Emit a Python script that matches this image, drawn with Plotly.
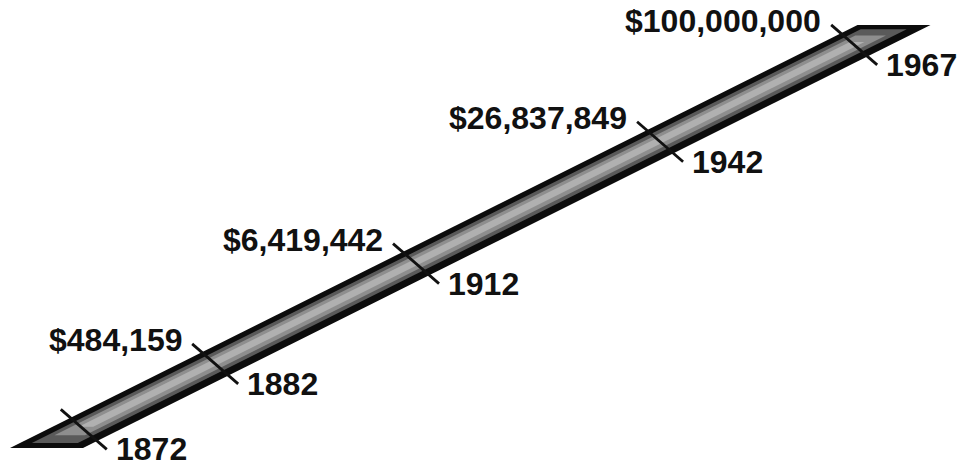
import plotly.graph_objects as go

# ---- data ----
years = [1872, 1882, 1912, 1942, 1967]
amounts = [None, 484159, 6419442, 26837849, 100000000]
# relative position of each year mark along the band (0 = lower-left end, 1 = upper-right end)
band_position = [0.044, 0.199, 0.436, 0.724, 0.953]

# ---- geometry / style ----
W, H = 969, 467
C0 = (46.5, 448.0)   # band centre at lower-left end
C1 = (894.0, 25.0)   # band centre at upper-right end
HALF = 36.5          # half of horizontal band width
TICK_HALF = (23.0, 20.0)
FONT = dict(family="Liberation Sans, Arial, sans-serif", size=32,
            color="#111111", weight="bold")


def pt(u, s):
    return (C0[0] + u * (C1[0] - C0[0]) + s * HALF, C0[1] + u * (C1[1] - C0[1]))


def poly(u0, u1, s0, s1):
    pts = [pt(u0, s0), pt(u0, s1), pt(u1, s1), pt(u1, s0), pt(u0, s0)]
    return [p[0] for p in pts], [p[1] for p in pts]


fig = go.Figure()

layers = [
    (0.0, 1.0, -1.0, 1.0, "#0c0c0c"),
    (0.012, 0.99, -0.68, 0.58, "#5a5a5a"),
    (0.03, 0.975, -0.48, 0.36, "#8e8e8e"),
    (0.05, 0.96, -0.28, 0.12, "#b0b0b0"),
]
for u0, u1, s0, s1, col in layers:
    xs, ys = poly(u0, u1, s0, s1)
    fig.add_trace(go.Scatter(x=xs, y=ys, mode="lines", fill="toself",
                             fillcolor=col, line=dict(width=0, color=col),
                             hoverinfo="skip", showlegend=False))

for yr, amt, u in zip(years, amounts, band_position):
    cx, cy = pt(u, 0.0)
    x0, y0 = cx - TICK_HALF[0], cy - TICK_HALF[1]
    x1, y1 = cx + TICK_HALF[0], cy + TICK_HALF[1]
    fig.add_trace(go.Scatter(x=[x0, x1], y=[y0, y1], mode="lines",
                             line=dict(color="#111111", width=2.8),
                             hoverinfo="skip", showlegend=False))
    fig.add_annotation(x=x1 + 7, y=y1, text=str(yr), showarrow=False,
                       xref="x", yref="y", xanchor="left", yanchor="middle",
                       font=FONT)
    if amt is not None:
        fig.add_annotation(x=x0 - 8, y=y0 - 4, text=f"${amt:,}", showarrow=False,
                           xref="x", yref="y", xanchor="right", yanchor="middle",
                           font=FONT)

fig.update_layout(
    width=W, height=H,
    margin=dict(l=0, r=0, t=0, b=0),
    paper_bgcolor="white", plot_bgcolor="white",
    xaxis=dict(range=[0, W], visible=False, fixedrange=True),
    yaxis=dict(range=[H, 0], visible=False, fixedrange=True),
    showlegend=False,
)

fig.write_html("out.html", config={"displayModeBar": False},
               post_script="document.body.style.margin='0';document.body.style.overflow='hidden';")
